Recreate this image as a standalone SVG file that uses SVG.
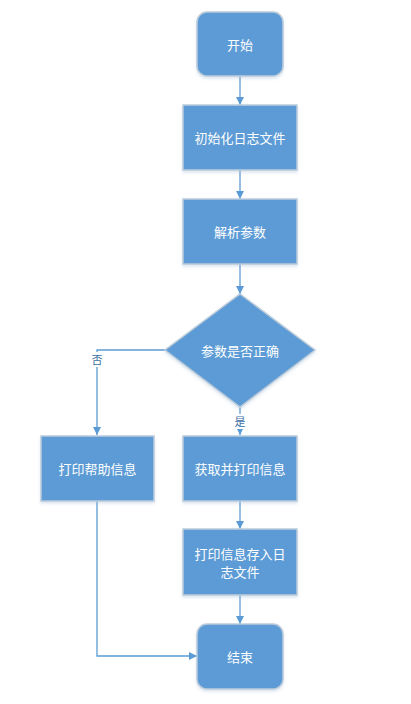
<svg xmlns="http://www.w3.org/2000/svg" width="411" height="704" viewBox="0 0 411 704">
<defs>
<style>
.node{fill:#5B9BD5;stroke:#BCCBDA;stroke-width:1.5;filter:url(#sh)}
.t{fill:#fff;font-family:"Noto Sans CJK SC","Noto Sans",sans-serif;font-size:13px;text-anchor:middle;dominant-baseline:central}
.c{fill:none;stroke:#5B9BD5;stroke-width:1.3}
.lbl{fill:#3A6FA5;font-family:"Noto Sans CJK SC","Noto Sans",sans-serif;font-size:11px;text-anchor:middle;dominant-baseline:central}
</style>
<filter id="sh" x="-20%" y="-20%" width="140%" height="150%">
<feDropShadow dx="0" dy="2" stdDeviation="1.5" flood-color="#9DB8D4" flood-opacity="0.35"/>
</filter>
<marker id="ar" viewBox="0 0 10 10" refX="10" refY="5" markerWidth="8" markerHeight="8" markerUnits="userSpaceOnUse" orient="auto">
<path d="M0,0 L10,5 L0,10 Z" fill="#5B9BD5"/>
</marker>
</defs>
<rect width="411" height="704" fill="#fff"/>
<g id="connectors">
<path class="c" d="M240,76 V105" marker-end="url(#ar)"/>
<path class="c" d="M240,170 V199" marker-end="url(#ar)"/>
<path class="c" d="M240,264 V294" marker-end="url(#ar)"/>
<path class="c" d="M165,350 H97 V435" marker-end="url(#ar)"/>
<path class="c" d="M240,407 V435" marker-end="url(#ar)"/>
<path class="c" d="M240,501 V529" marker-end="url(#ar)"/>
<path class="c" d="M240,595 V624" marker-end="url(#ar)"/>
<path class="c" d="M97,501 V656 H197" marker-end="url(#ar)"/>
<rect x="90" y="352" width="14" height="15" fill="#fff"/>
<text class="lbl" x="97" y="359">否</text>
<rect x="233" y="414" width="14" height="15" fill="#fff"/>
<text class="lbl" x="240" y="421">是</text>
</g>
<g id="start"><rect class="node" x="197" y="12" width="86" height="64" rx="10"/><text class="t" x="240" y="44">开始</text></g>
<g id="init"><rect class="node" x="183" y="105" width="114" height="65"/><text class="t" x="240" y="137.5">初始化日志文件</text></g>
<g id="parse"><rect class="node" x="183" y="199" width="114" height="65"/><text class="t" x="240" y="231.5">解析参数</text></g>
<g id="check"><polygon class="node" points="240,294 315,350 240,407 165,350"/><text class="t" x="240" y="350">参数是否正确</text></g>
<g id="help"><rect class="node" x="41" y="436" width="113" height="65"/><text class="t" x="97.5" y="468.5">打印帮助信息</text></g>
<g id="get"><rect class="node" x="183" y="436" width="114" height="65"/><text class="t" x="240" y="468.5">获取并打印信息</text></g>
<g id="store"><rect class="node" x="183" y="529" width="114" height="66"/><text class="t" x="240" y="553">打印信息存入日</text><text class="t" x="240" y="571">志文件</text></g>
<g id="end"><rect class="node" x="197" y="624" width="86" height="65" rx="10"/><text class="t" x="240" y="656.5">结束</text></g>
</svg>
